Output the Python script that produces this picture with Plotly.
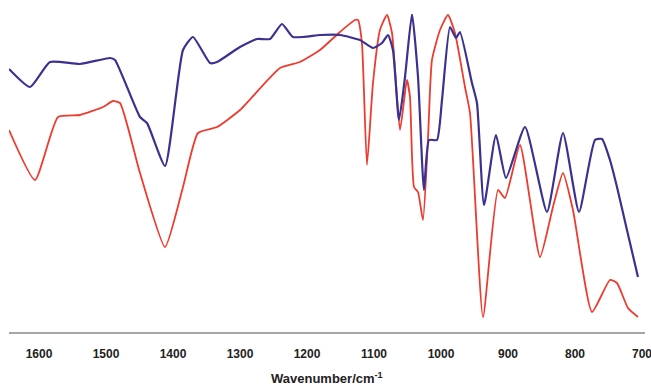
import plotly.graph_objects as go

# Wavenumber (cm^-1) and relative transmittance (arbitrary units)
blue_wn = [1644.8, 1613.4, 1583.6, 1538.8, 1494.0, 1486.6, 1449.3, 1438.8, 1411.9, 1385.1,
           1370.2, 1344.8, 1334.3, 1300.0, 1274.6, 1255.2, 1237.3, 1220.9, 1180.6, 1150.8,
           1121.0, 1101.5, 1088.1, 1079.1, 1071.7, 1062.7, 1053.7, 1043.3, 1034.3, 1025.4,
           1017.9, 1006.0, 998.5, 986.6, 977.6, 971.7, 953.8, 946.3, 935.8, 917.9,
           903.0, 874.6, 841.8, 817.9, 794.0, 770.2, 759.7, 747.8, 737.3, 722.4, 706.0]
blue_t = [263, 245, 270, 268, 274, 272, 215, 209, 166, 282,
          295, 269, 270, 285, 293, 293, 308, 295, 297, 297,
          292, 284, 289, 297, 282, 212, 255, 318, 255, 142,
          192, 192, 232, 305, 294, 300, 249, 229, 127, 197,
          154, 205, 120, 199, 120, 192, 193, 172, 145, 102, 55]

red_wn = [1644.8, 1606.0, 1571.6, 1538.8, 1504.5, 1489.6, 1479.1, 1449.3, 1411.9, 1385.1,
          1362.7, 1334.3, 1300.0, 1240.3, 1210.5, 1180.6, 1150.8, 1128.4, 1123.9, 1118.0,
          1110.5, 1101.5, 1091.1, 1080.6, 1073.1, 1061.2, 1050.8, 1046.3, 1040.3, 1034.3,
          1026.9, 1019.5, 1013.5, 1001.5, 989.6, 979.1, 964.2, 956.7, 937.3, 914.9,
          904.5, 882.1, 852.2, 832.9, 817.9, 803.0, 774.6, 747.8, 737.3, 720.9, 706.0]
red_t = [202, 152, 215, 217, 225, 231, 229, 159, 85, 145,
         199, 205, 222, 264, 270, 282, 300, 312, 312, 289,
         167, 249, 302, 317, 299, 202, 252, 235, 145, 140,
         112, 192, 272, 302, 317, 299, 245, 219, 15, 142,
         134, 187, 75, 125, 159, 122, 20, 52, 49, 24, 15]

tick_vals = [1600, 1500, 1400, 1300, 1200, 1100, 1000, 900, 800, 700]
tick_text = ["1600", "1500", "1400", "1300", "1200", "1100", "1000", "900", "800", "700"]
x_title = "Wavenumber/cm<sup>-1</sup>"

FONT = "Liberation Sans, Arial, sans-serif"

fig = go.Figure()
fig.add_trace(go.Scatter(x=red_wn, y=red_t, mode="lines",
                         line=dict(color="#ee3b2f", width=1.8, shape="spline", smoothing=0.5),
                         hoverinfo="skip"))
fig.add_trace(go.Scatter(x=blue_wn, y=blue_t, mode="lines",
                         line=dict(color="#3b3190", width=2.2, shape="spline", smoothing=0.5),
                         hoverinfo="skip"))

fig.update_layout(
    width=651, height=386,
    margin=dict(l=9, r=6, t=14, b=54),
    paper_bgcolor="white", plot_bgcolor="white",
    showlegend=False,
    font=dict(family=FONT, color="#222"),
    xaxis=dict(
        range=[1644.8, 695.5],
        tickvals=tick_vals, ticktext=tick_text,
        tickfont=dict(size=12, color="#222", family=FONT, weight="bold"),
        ticks="outside", ticklen=10, tickcolor="rgba(0,0,0,0)",
        ticklabeloverflow="allow",
        automargin=False,
        showgrid=False, zeroline=False,
        showline=True, linecolor="#a6a6a6", linewidth=2,
    ),
    yaxis=dict(range=[0, 318], visible=False, showgrid=False, zeroline=False, automargin=False),
    annotations=[dict(text=x_title, xref="paper", yref="paper", x=0.5, y=-0.145,
                      xanchor="center", yanchor="middle", showarrow=False,
                      font=dict(size=13, color="#222", family=FONT, weight="bold"))],
)

fig.write_html("out.html",
               config={"displayModeBar": False},
               post_script="document.body.style.margin='0';document.body.style.overflow='hidden';")
